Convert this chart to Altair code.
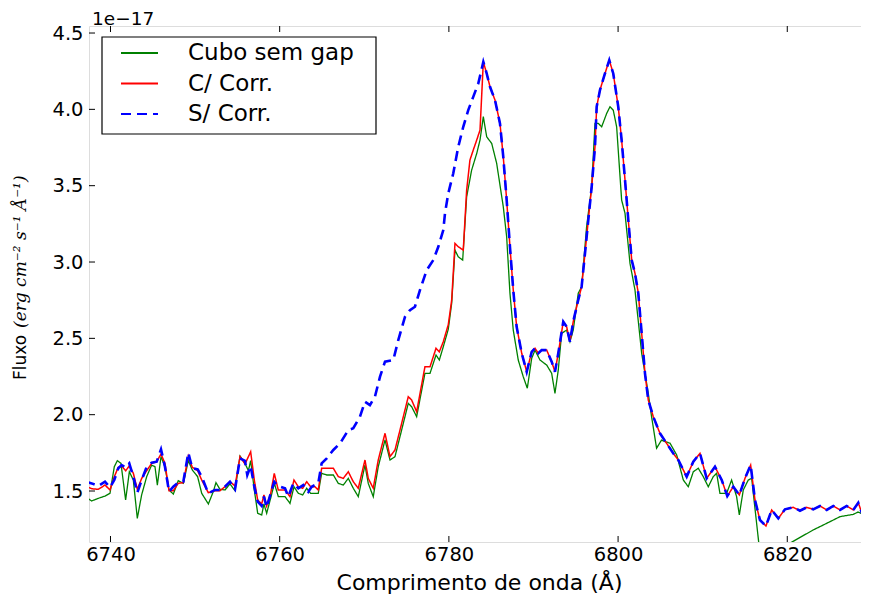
import altair as alt
import pandas as pd

# ---- data (flux in units of 1e-17 erg cm^-2 s^-1 A^-1) ----
red_wl = [6737.00, 6737.78, 6738.56, 6739.35, 6739.94, 6740.45, 6740.92, 6741.32, 6741.80, 6742.22,
          6742.70, 6743.17, 6743.69, 6744.28, 6744.87, 6745.46, 6745.97, 6746.44, 6746.92, 6747.42,
          6748.01, 6748.61, 6749.20, 6749.67, 6750.31, 6750.78, 6751.56, 6752.35, 6752.94, 6753.53,
          6754.12, 6754.72, 6755.31, 6755.90, 6756.57, 6757.00, 6757.40, 6757.87, 6758.14, 6758.46,
          6758.94, 6759.36, 6759.83, 6760.63, 6761.22, 6761.69, 6762.20, 6762.72, 6763.19, 6763.66,
          6764.17, 6764.56, 6764.96, 6765.56, 6766.34, 6766.93, 6767.52, 6768.11, 6768.70, 6769.29,
          6770.08, 6770.47, 6771.06, 6771.65, 6772.45, 6773.04, 6773.63, 6774.22, 6775.20, 6775.60,
          6776.19, 6777.17, 6777.77, 6778.48, 6778.87, 6779.34, 6779.93, 6780.33, 6780.72, 6781.11,
          6781.70, 6782.10, 6782.49, 6782.88, 6783.29, 6783.68, 6784.07, 6784.47, 6784.86, 6785.45,
          6786.04, 6786.43, 6786.83, 6787.22, 6787.61, 6788.01, 6788.61, 6789.20, 6789.79, 6790.18,
          6790.57, 6790.97, 6791.56, 6792.15, 6792.54, 6792.93, 6793.52, 6793.92, 6794.31, 6794.70,
          6795.29, 6795.69, 6796.09, 6796.48, 6796.88, 6797.27, 6797.47, 6797.86, 6798.45, 6798.96,
          6799.43, 6800.02, 6800.42, 6800.82, 6801.21, 6801.61, 6802.00, 6802.39, 6802.79, 6803.18,
          6803.57, 6804.16, 6804.95, 6805.74, 6806.52, 6807.12, 6808.11, 6808.89, 6809.68, 6810.47,
          6811.45, 6812.25, 6812.91, 6813.62, 6814.33, 6815.00, 6815.67, 6816.18, 6816.77, 6817.48,
          6818.16, 6818.94, 6819.73, 6820.71, 6821.50, 6822.29, 6823.07, 6823.87, 6824.66, 6825.44,
          6826.23, 6827.02, 6827.80, 6828.39, 6828.91, 6829.38, 6829.66]
red_flux = [1.533, 1.515, 1.511, 1.539, 1.507, 1.594, 1.655, 1.664, 1.633, 1.664,
            1.616, 1.511, 1.583, 1.633, 1.681, 1.692, 1.742, 1.681, 1.502, 1.502,
            1.550, 1.555, 1.729, 1.655, 1.633, 1.572, 1.489, 1.502, 1.502, 1.528,
            1.561, 1.533, 1.725, 1.677, 1.757, 1.572, 1.441, 1.415, 1.474, 1.402,
            1.485, 1.616, 1.507, 1.507, 1.463, 1.572, 1.528, 1.518, 1.561, 1.528,
            1.528, 1.507, 1.649, 1.649, 1.649, 1.594, 1.583, 1.626, 1.561, 1.518,
            1.703, 1.583, 1.518, 1.703, 1.878, 1.725, 1.769, 1.899, 2.118, 2.096,
            2.019, 2.314, 2.314, 2.435, 2.412, 2.478, 2.590, 2.750, 3.122, 3.100,
            3.078, 3.471, 3.668, 3.733, 3.799, 3.864, 4.311, 4.235, 4.148, 4.061,
            3.908, 3.689, 3.406, 3.100, 2.816, 2.576, 2.402, 2.281, 2.412, 2.435,
            2.402, 2.423, 2.423, 2.347, 2.281, 2.402, 2.609, 2.576, 2.478, 2.610,
            2.751, 2.838, 3.057, 3.275, 3.493, 3.755, 4.017, 4.126, 4.235, 4.322,
            4.235, 4.017, 3.799, 3.537, 3.275, 3.013, 2.926, 2.795, 2.533, 2.271,
            2.096, 1.987, 1.878, 1.812, 1.747, 1.703, 1.594, 1.692, 1.747, 1.583,
            1.659, 1.572, 1.467, 1.528, 1.474, 1.583, 1.670, 1.441, 1.310, 1.271,
            1.376, 1.321, 1.380, 1.393, 1.371, 1.393, 1.380, 1.402, 1.376, 1.402,
            1.376, 1.402, 1.376, 1.423, 1.343, 1.349, 1.430]

# S/ Corr. differs from C/ Corr. only blueward of the first peak; beyond it they coincide
blue_left_wl = [6737.00, 6737.78, 6738.56, 6739.35, 6739.94, 6740.45, 6740.92, 6741.32, 6741.80, 6742.22,
                6742.70, 6743.17, 6743.69, 6744.28, 6744.87, 6745.46, 6745.97, 6746.44, 6746.92, 6747.42,
                6748.01, 6748.61, 6749.20, 6749.67, 6750.31, 6750.78, 6751.56, 6752.35, 6752.94, 6753.53,
                6754.12, 6754.72, 6755.31, 6755.90, 6756.17, 6756.57, 6757.00, 6757.40, 6757.87, 6758.14,
                6758.46, 6758.94, 6759.36, 6759.83, 6760.63, 6761.02, 6761.61, 6762.20, 6762.79, 6763.38,
                6763.78, 6764.17, 6764.56, 6764.96, 6765.56, 6766.34, 6767.14, 6768.11, 6768.70, 6769.49,
                6770.08, 6770.67, 6771.26, 6771.86, 6772.45, 6773.43, 6774.02, 6774.81, 6775.40, 6775.99,
                6776.58, 6777.38, 6778.16, 6778.75, 6779.34, 6779.54, 6779.93, 6780.52, 6781.11, 6781.70,
                6782.29, 6782.88, 6783.48]
blue_left_flux = [1.561, 1.550, 1.533, 1.561, 1.524, 1.572, 1.649, 1.670, 1.655, 1.681,
                  1.594, 1.489, 1.572, 1.659, 1.685, 1.692, 1.773, 1.659, 1.496, 1.528,
                  1.555, 1.561, 1.751, 1.649, 1.642, 1.594, 1.485, 1.507, 1.507, 1.528,
                  1.561, 1.511, 1.714, 1.698, 1.605, 1.664, 1.528, 1.430, 1.402, 1.463,
                  1.393, 1.485, 1.561, 1.533, 1.518, 1.463, 1.550, 1.518, 1.539, 1.495,
                  1.528, 1.539, 1.550, 1.681, 1.714, 1.769, 1.812, 1.899, 1.911, 1.987,
                  2.085, 2.063, 2.118, 2.249, 2.347, 2.358, 2.489, 2.641, 2.685, 2.707,
                  2.816, 2.947, 3.013, 3.100, 3.209, 3.319, 3.450, 3.581, 3.755, 3.886,
                  3.995, 4.082, 4.170]

green_wl = [6737.00, 6737.78, 6738.56, 6739.35, 6739.94, 6740.45, 6740.81, 6741.24, 6741.79, 6742.23,
            6742.70, 6743.17, 6743.68, 6744.28, 6744.86, 6745.26, 6745.54, 6745.97, 6746.44, 6746.91,
            6747.43, 6748.01, 6748.61, 6749.20, 6749.67, 6750.30, 6750.78, 6751.57, 6752.15, 6752.47,
            6752.94, 6753.53, 6754.13, 6754.72, 6755.31, 6755.90, 6756.30, 6756.57, 6757.00, 6757.40,
            6757.87, 6758.14, 6758.46, 6758.93, 6759.37, 6759.84, 6760.63, 6761.22, 6761.69, 6762.20,
            6762.72, 6763.19, 6763.66, 6764.17, 6764.56, 6764.96, 6765.56, 6766.34, 6766.93, 6767.52,
            6768.11, 6768.70, 6769.29, 6770.08, 6770.47, 6771.06, 6771.65, 6772.45, 6773.04, 6773.63,
            6774.22, 6775.20, 6775.60, 6776.19, 6777.17, 6777.77, 6778.48, 6778.87, 6779.34, 6779.93,
            6780.33, 6780.72, 6781.11, 6781.63, 6782.10, 6782.69, 6783.29, 6783.68, 6784.07, 6784.47,
            6785.06, 6785.65, 6786.43, 6786.83, 6787.22, 6787.61, 6788.20, 6788.79, 6789.27, 6789.79,
            6790.18, 6790.77, 6791.56, 6792.15, 6792.54, 6792.93, 6793.33, 6793.92, 6794.31, 6794.70,
            6795.29, 6795.69, 6796.28, 6796.88, 6797.27, 6797.66, 6798.06, 6798.65, 6799.04, 6799.43,
            6799.83, 6800.42, 6800.82, 6801.41, 6802.00, 6802.79, 6803.57, 6803.96, 6804.55, 6805.14,
            6805.54, 6806.13, 6806.93, 6807.71, 6808.30, 6808.89, 6809.48, 6810.07, 6810.66, 6811.25,
            6811.65, 6812.04, 6812.83, 6813.42, 6814.01, 6814.33, 6814.80, 6815.39, 6815.79, 6816.85,
            6823.07, 6825.05, 6826.23, 6827.80, 6828.36, 6828.98, 6829.66]
green_flux = [1.463, 1.435, 1.452, 1.467, 1.485, 1.659, 1.699, 1.681, 1.441, 1.626,
              1.572, 1.321, 1.474, 1.594, 1.670, 1.659, 1.539, 1.725, 1.659, 1.507,
              1.480, 1.568, 1.550, 1.699, 1.638, 1.594, 1.485, 1.415, 1.496, 1.555,
              1.511, 1.507, 1.546, 1.502, 1.729, 1.681, 1.633, 1.699, 1.507, 1.354,
              1.343, 1.415, 1.354, 1.452, 1.550, 1.463, 1.463, 1.419, 1.528, 1.485,
              1.474, 1.518, 1.485, 1.485, 1.485, 1.616, 1.605, 1.605, 1.550, 1.539,
              1.583, 1.518, 1.463, 1.670, 1.550, 1.463, 1.659, 1.834, 1.703, 1.725,
              1.856, 2.074, 2.052, 1.987, 2.271, 2.271, 2.391, 2.358, 2.445, 2.560,
              2.729, 3.078, 3.034, 3.013, 3.427, 3.602, 3.711, 3.799, 3.952, 3.820,
              3.777, 3.646, 3.362, 3.165, 2.795, 2.554, 2.358, 2.249, 2.173, 2.369,
              2.423, 2.358, 2.325, 2.271, 2.140, 2.292, 2.533, 2.554, 2.478, 2.554,
              2.795, 2.838, 3.231, 3.493, 3.908, 3.908, 3.886, 3.973, 4.017, 3.995,
              3.886, 3.406, 3.319, 2.991, 2.816, 2.402, 2.140, 1.987, 1.780, 1.834,
              1.823, 1.814, 1.736, 1.572, 1.528, 1.626, 1.649, 1.594, 1.528, 1.594,
              1.616, 1.485, 1.485, 1.572, 1.463, 1.343, 1.507, 1.572, 1.583, 1.050,
              1.245, 1.299, 1.332, 1.347, 1.362, 1.349, 1.350]

series_names = ["Cubo sem gap", "C/ Corr.", "S/ Corr."]
series_colors = ["#008000", "#ff0000", "#0000ff"]
x_ticks = [6740, 6760, 6780, 6800, 6820]
y_ticks = [1.5, 2.0, 2.5, 3.0, 3.5, 4.0, 4.5]
x_domain = [6737.46, 6829.66]
y_domain = [1.166, 4.546]

# ---- build tables ----
first_peak = red_wl.index(6784.07)
blue_wl = blue_left_wl + red_wl[first_peak:]
blue_flux = blue_left_flux + red_flux[first_peak:]

df_green = pd.DataFrame({"wl": green_wl, "flux": green_flux, "series": series_names[0]})
df_red = pd.DataFrame({"wl": red_wl, "flux": red_flux, "series": series_names[1]})
df_blue = pd.DataFrame({"wl": blue_wl, "flux": blue_flux, "series": series_names[2]})

W, H = 780, 516
FONT = "DejaVu Sans"

xs = alt.Scale(domain=x_domain, nice=False, zero=False)
ys = alt.Scale(domain=y_domain, nice=False, zero=False)

legend = alt.Legend(
    title=None, orient="none", legendX=20, legendY=15.5,
    symbolType="M-3.7,0L3.7,0", symbolSize=100, symbolStrokeWidth=1.8, symbolOffset=19,
    labelFont=FONT, labelFontSize=23, labelColor="black", labelOffset=37, labelLimit=500,
    padding=0, rowPadding=6.5,
)
color_enc = alt.Color("series:N", scale=alt.Scale(domain=series_names, range=series_colors), legend=legend)
dash_enc = alt.StrokeDash("series:N", scale=alt.Scale(domain=series_names, range=[[1, 0], [1, 0], [10, 6]]), legend=legend)

x_enc = alt.X("wl:Q", scale=xs, axis=alt.Axis(
    values=x_ticks, title="Comprimento de onda (Å)", ticks=False, grid=False, domain=False,
    labelFont=FONT, labelFontSize=19.5, labelColor="black", labelPadding=3,
    titleFont=FONT, titleFontSize=22, titleFontWeight="normal", titleColor="black", titlePadding=9,
    format="d"))
y_enc = alt.Y("flux:Q", scale=ys, axis=alt.Axis(
    values=y_ticks, title=None, ticks=False, grid=False, domain=False,
    labelFont=FONT, labelFontSize=19.5, labelColor="black", labelPadding=6, format=".1f"))

def line_layer(df, width):
    return alt.Chart(df).mark_line(clip=True, strokeWidth=width).encode(
        x=x_enc, y=y_enc, color=color_enc, strokeDash=dash_enc)

green = line_layer(df_green, 1.3)
red = line_layer(df_red, 1.5)
blue = line_layer(df_blue, 2.6)

# legend frame (white box with black border)
legend_box = alt.Chart(pd.DataFrame({"b": [0]})).mark_rect(
    fill="white", stroke="black", strokeWidth=1.2
).encode(x=alt.value(13), x2=alt.value(287), y=alt.value(11), y2=alt.value(108))

# inward ticks on all four sides
xt = pd.DataFrame({"t": x_ticks})
yt = pd.DataFrame({"t": y_ticks})
tick_style = dict(color="black", strokeWidth=1)
bottom_ticks = alt.Chart(xt).mark_rule(**tick_style).encode(x=alt.X("t:Q", scale=xs), y=alt.value(H), y2=alt.value(H - 6))
top_ticks = alt.Chart(xt).mark_rule(**tick_style).encode(x=alt.X("t:Q", scale=xs), y=alt.value(0), y2=alt.value(6))
left_ticks = alt.Chart(yt).mark_rule(**tick_style).encode(y=alt.Y("t:Q", scale=ys), x=alt.value(0), x2=alt.value(6))
right_ticks = alt.Chart(yt).mark_rule(**tick_style).encode(y=alt.Y("t:Q", scale=ys), x=alt.value(W), x2=alt.value(W - 5))

offset_text = alt.Chart(pd.DataFrame({"s": ["1e\u221217"]})).mark_text(
    font=FONT, fontSize=18.5, align="left", baseline="alphabetic", color="black"
).encode(text="s:N", x=alt.value(3), y=alt.value(-1.5))

ylab_a = alt.Chart(pd.DataFrame({"s": ["Fluxo"]})).mark_text(
    font=FONT, fontSize=17, align="left", baseline="alphabetic", angle=270, color="black"
).encode(text="s:N", x=alt.value(-63), y=alt.value(354))
ylab_b = alt.Chart(pd.DataFrame({"s": ["(erg cm\u207b\u00b2 s\u207b\u00b9 \u00c5\u207b\u00b9)"]})).mark_text(
    font="DejaVu Serif", fontSize=17, fontStyle="italic", align="left", baseline="alphabetic", angle=270, color="black"
).encode(text="s:N", x=alt.value(-63), y=alt.value(302))

chart = alt.layer(
    green, red, blue, legend_box, bottom_ticks, top_ticks, left_ticks, right_ticks,
    offset_text, ylab_a, ylab_b
).properties(
    width=W, height=H,
    padding={"left": 81, "top": 18, "right": -8, "bottom": 54},
    autosize=alt.AutoSizeParams(type="none"),
).configure_view(
    stroke="black", strokeWidth=1.2
).configure(background="white")

chart.save("out.html", embed_options={"renderer": "svg", "actions": False})
